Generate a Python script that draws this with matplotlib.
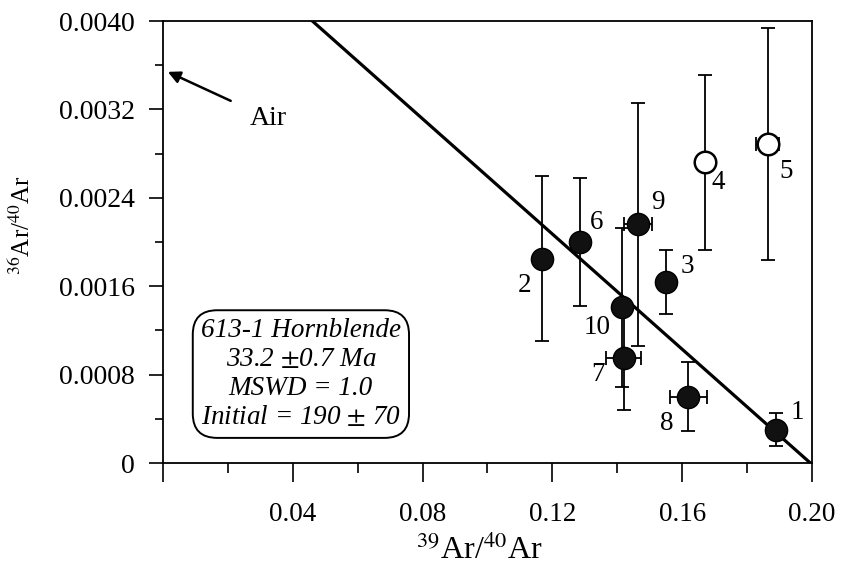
import numpy as np
import matplotlib
matplotlib.use("Agg")
import matplotlib.pyplot as plt
from matplotlib.ticker import MultipleLocator

plt.rcParams["font.family"] = ["Liberation Serif", "DejaVu Serif"]
plt.rcParams["mathtext.fontset"] = "stix"

# step data
labels = ["1", "2", "3", "4", "5", "6", "7", "8", "9", "10"]
x_vals = [0.1889, 0.1168, 0.1550, 0.1670, 0.1864, 0.1285, 0.1420, 0.1618, 0.1464, 0.1414]
y_vals = [0.00030, 0.00185, 0.00164, 0.00272, 0.00289, 0.00200, 0.00095, 0.00060, 0.00216, 0.00141]
x_err = [0.0, 0.0, 0.0, 0.0, 0.0035, 0.0, 0.0054, 0.0057, 0.0042, 0.0]
y_err = [0.00015, 0.00075, 0.00029, 0.00079, 0.00105, 0.00058, 0.00047, 0.00031, 0.00110, 0.00072]
included = [True, True, True, False, False, True, True, True, True, True]
label_dx = [0.0065, -0.0055, 0.0065, 0.0040, 0.0055, 0.0050, -0.0080, -0.0065, 0.0060, -0.0075]
label_dy = [0.00016, -0.00024, 0.00014, -0.00018, -0.00025, 0.00018, -0.00015, -0.00024, 0.00020, -0.00018]

# isochron line as drawn (y-intercept ~ 1/192, x-intercept ~ 0.1995)
y_intercept = 0.00520
x_intercept = 0.1995
air_ratio = 0.00354

fig = plt.figure(figsize=(8.41, 5.71), dpi=100)
ax = fig.add_axes([0.1938, 0.1891, 0.7717, 0.7741])

xl = np.array([0.0, x_intercept])
yl = y_intercept * (1 - xl / x_intercept)
ax.plot(xl, yl, color="black", linewidth=2.3, zorder=2)

for i in range(len(labels)):
    ax.errorbar(x_vals[i], y_vals[i], yerr=y_err[i], xerr=x_err[i] if x_err[i] > 0 else None,
                fmt="none", ecolor="black", elinewidth=1.3, capsize=5, capthick=1.3, zorder=3)
    if included[i]:
        ax.plot(x_vals[i], y_vals[i], "o", markersize=16, markerfacecolor="#111111",
                markeredgecolor="black", zorder=4)
    else:
        ax.plot(x_vals[i], y_vals[i], "o", markersize=15.5, markerfacecolor="white",
                markeredgecolor="black", markeredgewidth=1.8, zorder=4)
    ax.text(x_vals[i] + label_dx[i], y_vals[i] + label_dy[i], labels[i], fontsize=19.5,
            ha="center", va="center", zorder=5)

ax.annotate("Air", xy=(0.0015, air_ratio), xytext=(0.0325, 0.00312), fontsize=20,
            ha="center", va="center",
            arrowprops=dict(arrowstyle="-|>", color="black", lw=1.8, mutation_scale=18,
                            shrinkA=13, shrinkB=0))

ax.text(0.0425, 0.000805,
        "613-1 Hornblende\n33.2 $\\pm$0.7 Ma\nMSWD = 1.0\nInitial = 190 $\\pm$ 70",
        fontsize=19.5, style="italic", ha="center", va="center", linespacing=1.2,
        bbox=dict(boxstyle="round,pad=0.3,rounding_size=0.9", facecolor="white",
                  edgecolor="black", linewidth=1.4))

ax.set_xlim(0, 0.20)
ax.set_ylim(0, 0.0040)
ax.xaxis.set_minor_locator(MultipleLocator(0.02))
ax.yaxis.set_minor_locator(MultipleLocator(0.0004))
ax.set_xticks([0, 0.04, 0.08, 0.12, 0.16, 0.20])
ax.set_xticklabels(["", "0.04", "0.08", "0.12", "0.16", "0.20"])
ax.set_yticks([0, 0.0008, 0.0016, 0.0024, 0.0032, 0.0040])
ax.set_yticklabels(["0", "0.0008", "0.0016", "0.0024", "0.0032", "0.0040"])

ax.tick_params(axis="x", which="major", direction="out", length=14, width=1.2, pad=14, labelsize=19.5)
ax.tick_params(axis="x", which="minor", direction="out", length=7, width=1.2)
ax.tick_params(axis="y", which="major", direction="out", length=10, width=1.2, pad=10, labelsize=20)
ax.tick_params(axis="y", which="minor", direction="out", length=6, width=1.2)
for s in ax.spines.values():
    s.set_linewidth(1.3)

fig.text(479 / 841, 1 - 551 / 571, "$^{39}$Ar/$^{40}$Ar", fontsize=23, ha="center", va="center")
fig.text(22 / 841, 1 - 225 / 571, "$^{36}$Ar/$^{40}$Ar", fontsize=18, ha="center", va="center",
         rotation=90)

fig.savefig("out.png", dpi=100)
